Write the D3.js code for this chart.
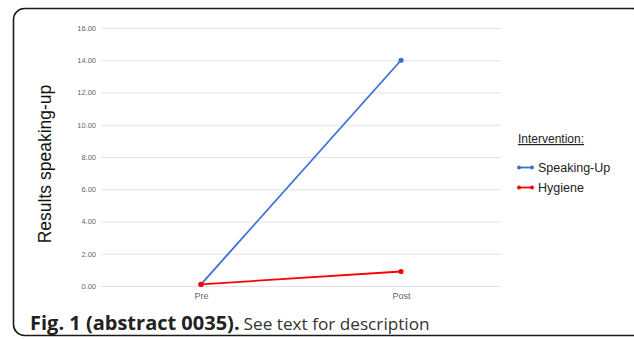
<!DOCTYPE html>
<html><head><meta charset="utf-8">
<script src="https://cdnjs.cloudflare.com/ajax/libs/d3/7.8.5/d3.min.js"></script>
<style>body{margin:0;background:#fff}svg{display:block}</style>
</head><body>
<svg id="c" width="634" height="339"></svg>
<script>
const categories = ["Pre", "Post"];
const speakingUp = [0.1, 14.0];
const hygiene = [0.1, 0.9];
const yTicks = [0, 2, 4, 6, 8, 10, 12, 14, 16];
const seriesNames = ["Speaking-Up", "Hygiene"];
const seriesColors = ["#3d6fd6", "#ff0000"];

const svg = d3.select("#c");
// frame
svg.append("rect").attr("x", 13.5).attr("y", 8.5).attr("width", 630).attr("height", 327)
  .attr("rx", 11).attr("fill", "none").attr("stroke", "#1a1a1a").attr("stroke-width", 1.6);

const x = d3.scalePoint().domain(categories).range([101, 501]).padding(0.5);
const y = d3.scaleLinear().domain([0, 16]).range([286, 28]);

// gridlines + y ticks
const yAxis = d3.axisLeft(y).tickValues(yTicks).tickFormat(d3.format(".2f")).tickSize(-400).tickPadding(5);
const gy = svg.append("g").attr("transform", "translate(101,0)").call(yAxis);
gy.select(".domain").remove();
gy.selectAll(".tick line").attr("stroke", "#e3e3e3").attr("stroke-width", 1);
gy.selectAll(".tick text").attr("fill", "#666").style("font-family", "'Liberation Sans', Arial, sans-serif").style("font-size", "7.5px");

const xAxis = d3.axisBottom(x).tickSize(0).tickPadding(7);
const gx = svg.append("g").attr("transform", "translate(0,286)").call(xAxis);
gx.select(".domain").remove();
gx.selectAll(".tick text").attr("fill", "#666").style("font-family", "'Liberation Sans', Arial, sans-serif").style("font-size", "9px");

// y title
svg.append("text").attr("transform", "translate(51,164) rotate(-90)").attr("text-anchor", "middle")
  .style("font-family", "'Liberation Sans', Arial, sans-serif").style("font-size", "17.5px").attr("fill", "#111")
  .text("Results speaking-up");

const series = [speakingUp, hygiene];
const line = d3.line().x((d, i) => x(categories[i])).y(d => y(d));
series.forEach((s, k) => {
  svg.append("path").datum(s).attr("d", line).attr("fill", "none").attr("stroke", seriesColors[k]).attr("stroke-width", 1.8);
  svg.selectAll(null).data(s).enter().append("circle")
    .attr("cx", (d, i) => x(categories[i])).attr("cy", d => y(d)).attr("r", 2.6).attr("fill", seriesColors[k]);
});

// legend
const lg = svg.append("g").style("font-family", "'Liberation Sans', Arial, sans-serif");
lg.append("text").attr("x", 518).attr("y", 143).style("font-size", "12px").attr("fill", "#222")
  .attr("text-decoration", "underline").text("Intervention:");
seriesNames.forEach((n, k) => {
  const yy = 167.5 + k * 20;
  lg.append("line").attr("x1", 519).attr("x2", 532).attr("y1", yy).attr("y2", yy).attr("stroke", seriesColors[k]).attr("stroke-width", 1.8);
  lg.append("circle").attr("cx", 519).attr("cy", yy).attr("r", 2).attr("fill", seriesColors[k]);
  lg.append("circle").attr("cx", 532).attr("cy", yy).attr("r", 2).attr("fill", seriesColors[k]);
  lg.append("text").attr("x", 538).attr("y", yy + 4.3).style("font-size", "12.5px").attr("fill", "#222").text(n);
});

// caption
const cap = svg.append("text").attr("x", 30).attr("y", 330).style("font-family", "'Open Sans', sans-serif").attr("fill", "#222");
cap.append("tspan").attr("font-weight", "bold").style("font-size", "20px").text("Fig. 1 (abstract 0035).");
cap.append("tspan").attr("fill", "#333").style("font-size", "17.2px").attr("dx", 4).text("See text for description");
</script>
</body></html>
